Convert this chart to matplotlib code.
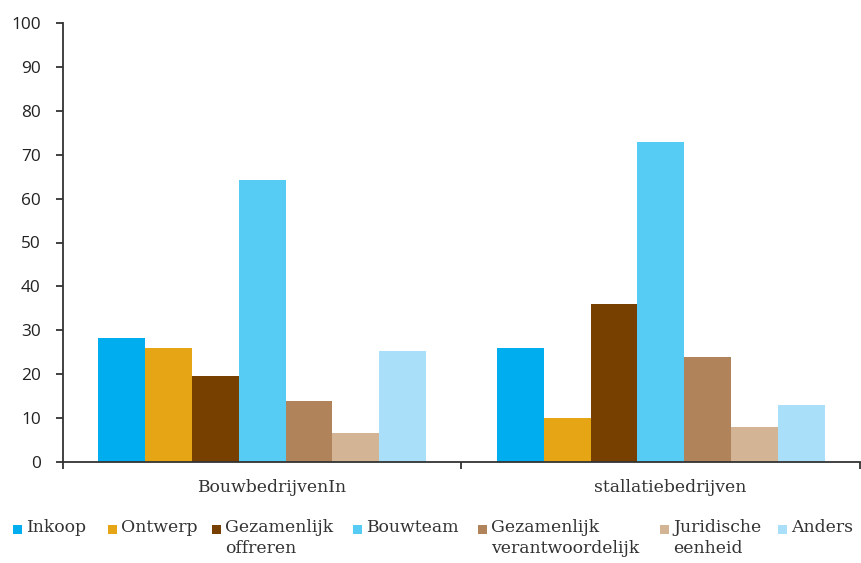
import numpy as np
import matplotlib.pyplot as plt
import matplotlib.transforms as mtransforms
from matplotlib.patches import Rectangle

# data
groups = ['BouwbedrijvenIn', 'stallatiebedrijven']
series = ['Inkoop', 'Ontwerp', 'Gezamenlijk\noffreren', 'Bouwteam',
          'Gezamenlijk\nverantwoordelijk', 'Juridische\neenheid', 'Anders']
bouw = [28.3, 26, 19.5, 64.2, 13.8, 6.5, 25.2]
install = [26, 10, 36, 73, 24, 8, 13]
colors = ['#00aeef', '#e6a514', '#773f00', '#56ccf5', '#b0835a', '#d3b596', '#a9dff9']

values = np.array([bouw, install])

fig = plt.figure(figsize=(8.61, 5.63), dpi=100)
ax = fig.add_axes([63/861, 101/563, 797/861, 439/563])

width = 0.1175
x = np.arange(len(groups)) + 0.5
for i, name in enumerate(series):
    ax.bar(x + (i - 3) * width, values[:, i], width, color=colors[i], linewidth=0)

ax.set_xlim(0, 2)
ax.set_ylim(0, 100)
ax.set_yticks(np.arange(0, 101, 10))
for lab in ax.get_yticklabels():
    lab.set_family('Open Sans')
    lab.set_fontsize(12.4)
    lab.set_color('#222222')

# group labels, no ticks; separators as minor ticks
ax.set_xticks(x)
ax.set_xticklabels(groups, family='DejaVu Serif', fontsize=12.4, color='#333333')
ax.tick_params(axis='x', which='major', length=0, pad=12)
ax.set_xticks([0, 1, 2], minor=True)
ax.tick_params(axis='x', which='minor', length=5, width=1.3, color='#333333', direction='out')
ax.tick_params(axis='y', length=5, width=1.3, color='#333333', direction='out', pad=11)
offset = mtransforms.ScaledTranslation(9/100, 0, fig.dpi_scale_trans)
for lab in ax.get_xticklabels():
    lab.set_transform(lab.get_transform() + offset)

for s in ['top', 'right']:
    ax.spines[s].set_visible(False)
for s in ['left', 'bottom']:
    ax.spines[s].set_color('#333333')
    ax.spines[s].set_linewidth(1.3)

# legend drawn by hand
leg_x = [13, 108, 212, 353, 478, 660, 778]
for lx, name, c in zip(leg_x, series, colors):
    fig.patches.append(Rectangle((lx/861, (563-534)/563), 9/861, 9/563,
                                 transform=fig.transFigure, color=c, linewidth=0))
    fig.text((lx + 13)/861, (563-519)/563, name, family='DejaVu Serif', fontsize=12.4,
             color='#333333', va='top', ha='left', linespacing=1.27)

fig.savefig('out.png', dpi=100)
